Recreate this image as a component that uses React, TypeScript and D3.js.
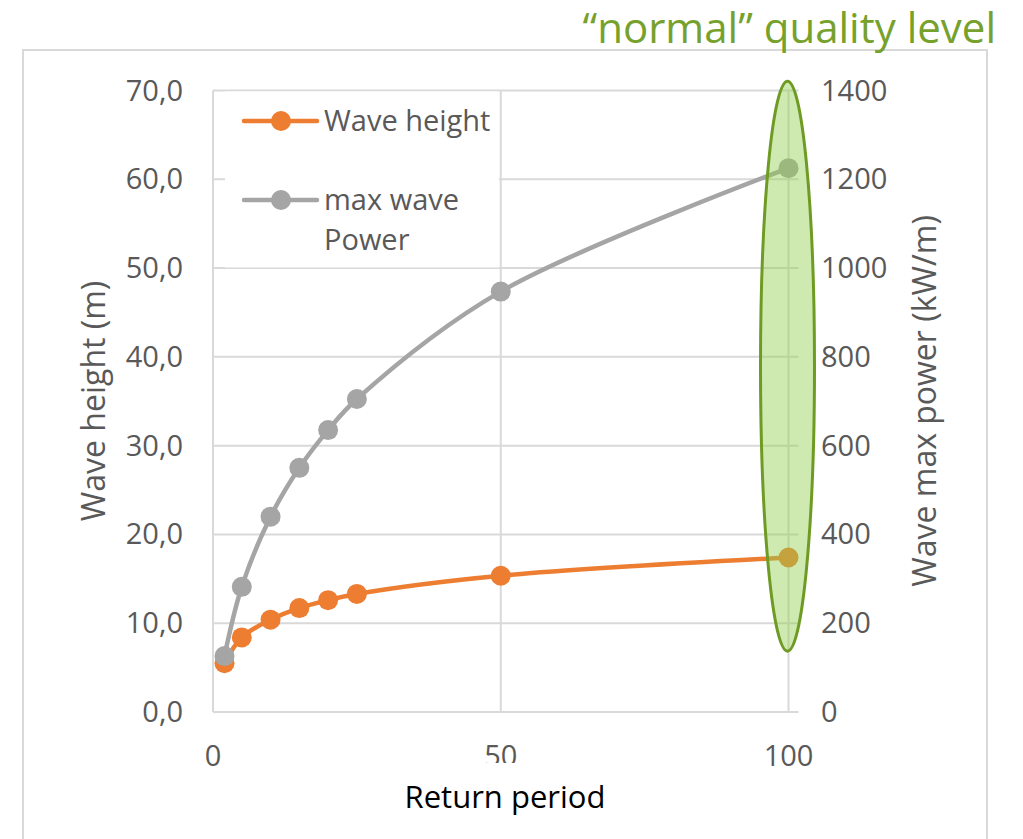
import { useEffect, useRef } from "react";
import * as d3 from "d3";

const returnPeriods = [2, 5, 10, 15, 20, 25, 50, 100];
const waveHeight = [5.5, 8.4, 10.4, 11.7, 12.6, 13.3, 15.35, 17.4];
const maxWavePower = [126, 282, 440, 550, 635, 705, 947, 1225];
const leftTicks = [0, 10, 20, 30, 40, 50, 60, 70];
const rightTicks = [0, 200, 400, 600, 800, 1000, 1200, 1400];
const xTicks = [0, 50, 100];
const highlightRange = [137, 1421];

export default function App() {
  const chartRef = useRef<SVGSVGElement>(null);

  useEffect(() => {
    if (!chartRef.current) return;
    d3.select(chartRef.current).selectAll("*").remove();

    const width = 1023;
    const height = 839;
    const plot = { left: 213, right: 788.5, top: 90.5, bottom: 712 };
    const font = "'Open Sans', sans-serif";
    const textGray = "#595959";
    const gridColor = "#d9d9d9";
    const orange = "#ed7d31";
    const gray = "#a5a5a5";

    const svg = d3
      .select(chartRef.current)
      .attr("width", width)
      .attr("height", height)
      .attr("viewBox", `0 0 ${width} ${height}`);

    const x = d3.scaleLinear().domain([0, 100]).range([plot.left, plot.right]);
    const y = d3.scaleLinear().domain([0, 70]).range([plot.bottom, plot.top]);
    const y2 = d3.scaleLinear().domain([0, 1400]).range([plot.bottom, plot.top]);

    // Chart frame
    svg
      .append("path")
      .attr("d", `M23,${height + 5} V50 H987 V${height + 5}`)
      .attr("fill", "none")
      .attr("stroke", gridColor)
      .attr("stroke-width", 2);

    // Title annotation
    svg
      .append("text")
      .attr("x", 996)
      .attr("y", 43)
      .attr("text-anchor", "end")
      .style("font-family", font)
      .style("font-size", "42px")
      .attr("fill", "#76a12c")
      .text("\u201cnormal\u201d quality level");

    // Gridlines
    svg
      .append("g")
      .selectAll("line")
      .data(leftTicks)
      .join("line")
      .attr("x1", plot.left)
      .attr("x2", plot.right + 10)
      .attr("y1", (d) => y(d))
      .attr("y2", (d) => y(d))
      .attr("stroke", gridColor)
      .attr("stroke-width", 2);

    svg
      .append("g")
      .selectAll("line")
      .data(xTicks)
      .join("line")
      .attr("x1", (d) => x(d))
      .attr("x2", (d) => x(d))
      .attr("y1", plot.top)
      .attr("y2", plot.bottom)
      .attr("stroke", gridColor)
      .attr("stroke-width", 2);

    // Legend background
    svg
      .append("rect")
      .attr("x", 225)
      .attr("y", plot.top + 1)
      .attr("width", 274)
      .attr("height", 176)
      .attr("fill", "#fff");

    // Left axis labels
    svg
      .append("g")
      .selectAll("text")
      .data(leftTicks)
      .join("text")
      .attr("x", 183)
      .attr("y", (d) => y(d) + 10)
      .attr("text-anchor", "end")
      .style("font-family", font)
      .style("font-size", "29px")
      .attr("fill", textGray)
      .text((d) => d3.format(".1f")(d).replace(".", ","));

    // Right axis labels
    svg
      .append("g")
      .selectAll("text")
      .data(rightTicks)
      .join("text")
      .attr("x", 821)
      .attr("y", (d) => y2(d) + 10)
      .style("font-family", font)
      .style("font-size", "29px")
      .attr("fill", textGray)
      .text((d) => d);

    // X axis labels
    svg
      .append("g")
      .selectAll("text")
      .data(xTicks)
      .join("text")
      .attr("x", (d) => x(d))
      .attr("y", 766)
      .attr("text-anchor", "middle")
      .style("font-family", font)
      .style("font-size", "29px")
      .attr("fill", textGray)
      .text((d) => d);

    // "50" label is cut at the bottom in the original
    svg
      .append("rect")
      .attr("x", x(50) - 25)
      .attr("y", 763)
      .attr("width", 50)
      .attr("height", 10)
      .attr("fill", "#fff");

    // Axis titles
    svg
      .append("text")
      .attr("transform", `translate(105,401) rotate(-90)`)
      .attr("text-anchor", "middle")
      .style("font-family", font)
      .style("font-size", "32px")
      .attr("fill", textGray)
      .text("Wave height (m)");

    svg
      .append("text")
      .attr("transform", `translate(936,401) rotate(-90)`)
      .attr("text-anchor", "middle")
      .style("font-family", font)
      .style("font-size", "32px")
      .attr("fill", textGray)
      .text("Wave max power (kW/m)");

    svg
      .append("text")
      .attr("x", 505)
      .attr("y", 808)
      .attr("text-anchor", "middle")
      .style("font-family", font)
      .style("font-size", "31px")
      .attr("fill", "#000")
      .text("Return period");

    // Series
    const series = [
      { values: waveHeight, scale: y, color: orange },
      { values: maxWavePower, scale: y2, color: gray },
    ];

    series.forEach((s) => {
      const pts = returnPeriods.map((p, i) => [x(p), s.scale(s.values[i])] as [number, number]);
      const line = d3.line().curve(d3.curveCatmullRom.alpha(0.5));
      svg
        .append("path")
        .attr("d", line(pts))
        .attr("fill", "none")
        .attr("stroke", s.color)
        .attr("stroke-width", 4.5)
        .attr("stroke-linecap", "round");
      svg
        .append("g")
        .selectAll("circle")
        .data(pts)
        .join("circle")
        .attr("cx", (d) => d[0])
        .attr("cy", (d) => d[1])
        .attr("r", 10)
        .attr("fill", s.color);
    });

    // Legend
    const legend = [
      { label: ["Wave height"], color: orange, y: 121 },
      { label: ["max wave", "Power"], color: gray, y: 200 },
    ];
    legend.forEach((l) => {
      svg
        .append("line")
        .attr("x1", 244)
        .attr("x2", 317)
        .attr("y1", l.y)
        .attr("y2", l.y)
        .attr("stroke", l.color)
        .attr("stroke-width", 4.5)
        .attr("stroke-linecap", "round");
      svg
        .append("circle")
        .attr("cx", 281)
        .attr("cy", l.y)
        .attr("r", 10)
        .attr("fill", l.color);
      l.label.forEach((t, i) => {
        svg
          .append("text")
          .attr("x", 324)
          .attr("y", l.y + 10 + i * 40)
          .style("font-family", font)
          .style("font-size", "29px")
          .attr("fill", textGray)
          .text(t);
      });
    });

    // Highlight ellipse around the 100-year point
    const top = y2(highlightRange[1]);
    const bottom = y2(highlightRange[0]);
    svg
      .append("ellipse")
      .attr("cx", x(100) - 1)
      .attr("cy", (top + bottom) / 2)
      .attr("rx", 27)
      .attr("ry", (bottom - top) / 2)
      .attr("fill", "#92d050")
      .attr("fill-opacity", 0.45)
      .attr("stroke", "#6f9b25")
      .attr("stroke-width", 3);
  }, []);

  return (
    <svg
      ref={chartRef}
      style={{ position: "absolute", left: 0, top: 0, display: "block", background: "#fff" }}
    ></svg>
  );
}
